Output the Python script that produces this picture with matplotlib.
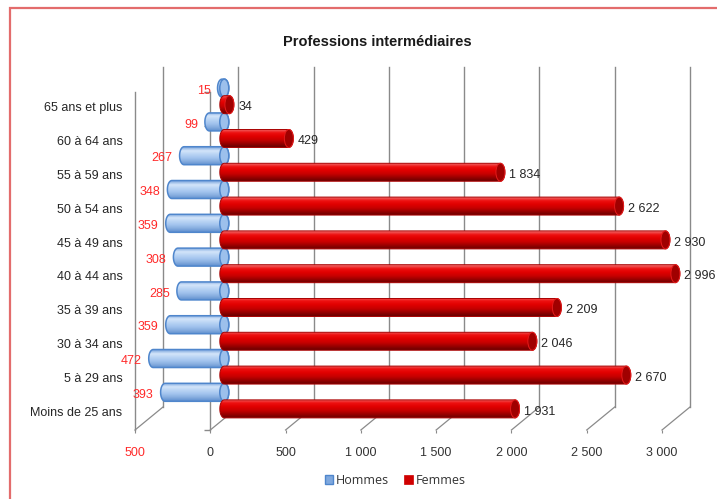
import matplotlib
matplotlib.use("Agg")
import numpy as np
import matplotlib.pyplot as plt
from matplotlib import font_manager
from matplotlib.patches import PathPatch, Ellipse, Rectangle, Patch
from matplotlib.path import Path
from matplotlib.colors import LinearSegmentedColormap
from matplotlib.ticker import FuncFormatter

# ---- data -------------------------------------------------------------
categories = ["65 ans et plus", "60 à 64 ans", "55 à 59 ans", "50 à 54 ans",
              "45 à 49 ans", "40 à 44 ans", "35 à 39 ans", "30 à 34 ans",
              "5 à 29 ans", "Moins de 25 ans"]
hommes = [15, 99, 267, 348, 359, 308, 285, 359, 472, 393]
femmes = [34, 429, 1834, 2622, 2930, 2996, 2209, 2046, 2670, 1931]
value_ticks = [-500, 0, 500, 1000, 1500, 2000, 2500, 3000]
series_names = ["Hommes", "Femmes"]
title = "Professions intermédiaires"


def pick_font(names):
    for n in names:
        try:
            font_manager.findfont(font_manager.FontProperties(family=n),
                                  fallback_to_default=False)
            return n
        except Exception:
            continue
    return "DejaVu Sans"


narrow = pick_font(["Liberation Sans Narrow", "DejaVu Sans Condensed", "Liberation Sans"])
regular = pick_font(["Open Sans", "Liberation Sans", "DejaVu Sans"])
plt.rcParams["font.family"] = [narrow, "DejaVu Sans"]

W, H = 717, 499
fig = plt.figure(figsize=(W / 100, H / 100), dpi=100)
fig.patch.set_facecolor("white")

# chart border
fig.add_artist(Rectangle((9.5 / W, -0.1), 1.2, (H - 8) / H + 0.1,
                         transform=fig.transFigure, fill=False,
                         edgecolor="#e36c6c", lw=1.6))

# front plane of the plot area (pixels)
x_left, x_right, y_bottom, y_top = 135, 662, 430, 92
ax = fig.add_axes([x_left / W, 1 - y_bottom / H,
                   (x_right - x_left) / W, (y_bottom - y_top) / H])
ax.set_autoscale_on(False)
xmin, xmax = -500, 3000
n = len(categories)
ax.set_xlim(xmin, xmax)
ax.set_ylim(-0.5, n - 0.5)

px_x = (x_right - x_left) / (xmax - xmin)      # pixels per value unit
px_y = (y_bottom - y_top) / n                   # pixels per category

# depth of the 3-D box, expressed in data units
depth_dx = 28 / px_x
depth_dy = 23 / px_y
# bars sit half-way into the depth
mid_dx = 14 / px_x
mid_dy = 12.5 / px_y

grid_col = "#8a8a8a"
# back wall gridlines and floor diagonals
for v in value_ticks:
    ax.plot([v + depth_dx, v + depth_dx], [-0.5 + depth_dy, n - 0.5 + depth_dy + 0.05],
            color=grid_col, lw=1.0, clip_on=False, zorder=1)
    ax.plot([v, v + depth_dx], [-0.5, -0.5 + depth_dy],
            color=grid_col, lw=0.9, clip_on=False, zorder=1)

# category axis at value 0 with its small ticks
ax.plot([0, 0], [-0.5, n - 0.5], color=grid_col, lw=1.0, clip_on=False, zorder=1.5)
ax.plot(np.zeros(n + 1), np.arange(n + 1) - 0.5, ls="none", marker=0,
        markersize=4, color=grid_col, clip_on=False, zorder=1.5)

for s in ["top", "right", "bottom"]:
    ax.spines[s].set_visible(False)
ax.spines["left"].set_color(grid_col)
ax.spines["left"].set_linewidth(1.0)
ax.patch.set_alpha(0)

# value axis
def fmt(v, _pos=None):
    return f"{abs(int(v)):,}".replace(",", " ")

ax.set_xticks(value_ticks)
ax.xaxis.set_major_formatter(FuncFormatter(fmt))
ax.tick_params(axis="x", length=2.5, width=0.8, color=grid_col, pad=10,
               labelsize=9, labelcolor="#333333")
for lbl, v in zip(ax.get_xticklabels(), value_ticks):
    if v < 0:
        lbl.set_color("#ff2a2a")

# category axis labels (first category at the top)
ypos = np.arange(n)[::-1].astype(float)
ax.set_yticks(ypos + 0.06)
ax.set_yticklabels(categories)
ax.tick_params(axis="y", length=0, pad=9, labelsize=9, labelcolor="#262626")

# ---- cylinders ----------------------------------------------------------
rx = 4.5 / px_x
bar_h = 18 / px_y

red_cmap = LinearSegmentedColormap.from_list(
    "red_cyl", ["#f06a6a", "#ee1010", "#e00000", "#c80000", "#9a0000", "#6a0000"])
blue_cmap = LinearSegmentedColormap.from_list(
    "blue_cyl", ["#7fa8de", "#d4e5fa", "#b9d4f4", "#a3c4ee", "#86addf", "#5f8fcf"])


def cylinder_path(x0, x1, yc, h):
    t = np.linspace(np.pi / 2, -np.pi / 2, 30)
    hh = h / 2
    right = np.column_stack([x1 + rx * np.cos(t), yc + hh * np.sin(t)])
    left = np.column_stack([x0 - rx * np.cos(t), yc - hh * np.sin(t)])
    verts = np.vstack([right, left, right[:1]])
    return Path(verts, closed=True)


def draw_cylinder(start, end, yc, cmap, edge, cap_face, cap_edge, lw, z):
    x0, x1 = min(start, end), max(start, end)
    path = cylinder_path(x0, x1, yc, bar_h)
    grad = np.linspace(0, 1, 64).reshape(-1, 1)
    im = ax.imshow(grad, cmap=cmap, aspect="auto", interpolation="bilinear",
                   extent=[x0 - rx, x1 + rx, yc - bar_h / 2, yc + bar_h / 2],
                   origin="upper", zorder=z)
    clip = PathPatch(path, transform=ax.transData, facecolor="none", edgecolor="none")
    im.set_clip_box(fig.bbox)
    im.set_clip_path(clip)
    ax.add_patch(PathPatch(path, facecolor="none", edgecolor=edge, lw=lw,
                           zorder=z + 0.1, clip_on=False))
    ax.add_patch(Ellipse((x1, yc), 2 * rx, bar_h, facecolor=cap_face,
                         edgecolor=cap_edge, lw=lw, zorder=z + 0.2, clip_on=False))


for i, (h_val, f_val) in enumerate(zip(hommes, femmes)):
    yb = ypos[i] + 0.245 + mid_dy
    yr = ypos[i] - 0.245 + mid_dy
    draw_cylinder(mid_dx, mid_dx - h_val, yb, blue_cmap, "#4f86cc",
                  "#9cc0ec", "#4f86cc", 1.1, 3)
    draw_cylinder(mid_dx, mid_dx + f_val, yr, red_cmap, "#a80000",
                  "#a00000", "#e41b1b", 0.7, 4)
    ax.annotate(fmt(h_val), xy=(mid_dx - h_val - rx, yb), xytext=(-5, -2),
                textcoords="offset points", ha="right", va="center",
                fontsize=9, color="#ff2a2a", annotation_clip=False, zorder=6)
    ax.annotate(fmt(f_val), xy=(mid_dx + f_val + rx, yr), xytext=(3, -2),
                textcoords="offset points", ha="left", va="center",
                fontsize=9, color="#262626", annotation_clip=False, zorder=6)

# title
fig.text(377 / W, 1 - 42 / H, title, ha="center", va="center",
         fontsize=10.5, fontweight="bold", color="#1a1a1a")

# legend
handles = [Patch(facecolor="#7fa8de", edgecolor="#4f86cc", lw=1.0),
           Patch(facecolor="#d00000", edgecolor="#d00000", lw=0.5)]
fig.legend(handles, series_names, loc="center", bbox_to_anchor=(395 / W, 1 - 480 / H),
           ncol=2, frameon=False, handlelength=0.7, handleheight=0.7,
           handletextpad=0.2, columnspacing=1.2,
           prop={"family": [regular, "DejaVu Sans"], "size": 9}, labelcolor="#333333")

fig.savefig("out.png", dpi=100, facecolor="white")
